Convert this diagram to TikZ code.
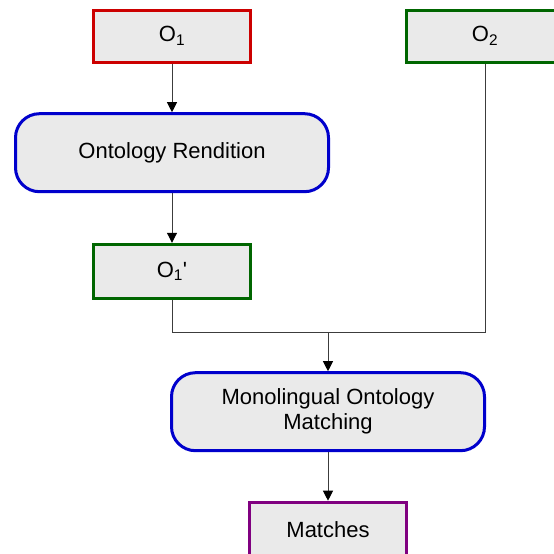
\documentclass[tikz,border=0pt]{standalone}
\usepackage{fontspec}
\setmainfont{Liberation Sans}
\usetikzlibrary{arrows.meta}
\definecolor{boxfill}{RGB}{234,234,234}
\definecolor{srcred}{RGB}{204,0,0}
\definecolor{resgreen}{RGB}{0,102,0}
\definecolor{procblue}{RGB}{0,0,204}
\definecolor{outpurple}{RGB}{128,0,128}
\definecolor{linkgray}{RGB}{60,60,60}
\begin{document}
\begin{tikzpicture}[x=1pt,y=-1pt,
  every node/.style={font=\fontsize{22}{25}\selectfont, align=center, inner sep=0pt},
  databox/.style={draw, line width=3pt, fill=boxfill, minimum width=157pt, minimum height=52pt},
  procbox/.style={draw=procblue, line width=3pt, fill=boxfill, rounded corners=24pt, minimum width=313pt, minimum height=78pt},
  link/.style={draw=linkgray, line width=1pt},
  arrow/.style={link, -{Triangle[length=10pt,width=10pt,color=black]}}]
  \clip (0,0) rectangle (554,554);
  \useasboundingbox (0,0) rectangle (554,554);

  % inputs
  \node[databox, draw=srcred] (o1) at (172,36) {O\textsubscript{1}};
  \node[databox, draw=resgreen] (o2) at (485,36) {O\textsubscript{2}};

  % rendition step and its result
  \node[procbox] (rend) at (172,152.7) {Ontology Rendition};
  \node[databox, draw=resgreen, minimum height=54pt] (o1p) at (172,271.3) {O\textsubscript{1}\textquotesingle};

  % matching step and its output
  \node[procbox] (mono) at (328,411.7) {Monolingual Ontology\\Matching};
  \node[databox, draw=outpurple, minimum height=54pt] (match) at (328,529.2) {Matches};

  % connectors
  \draw[arrow] (o1.south) -- (rend.north);
  \draw[arrow] (rend.south) -- (o1p.north);
  \coordinate (j) at (328,332.3);
  \coordinate (jr) at (o2.south |- j);
  \draw[link] (o1p.south) |- (jr) -- (o2.south);
  \draw[arrow] (j) -- (mono.north);
  \draw[arrow] (mono.south) -- (match.north);
\end{tikzpicture}
\end{document}
